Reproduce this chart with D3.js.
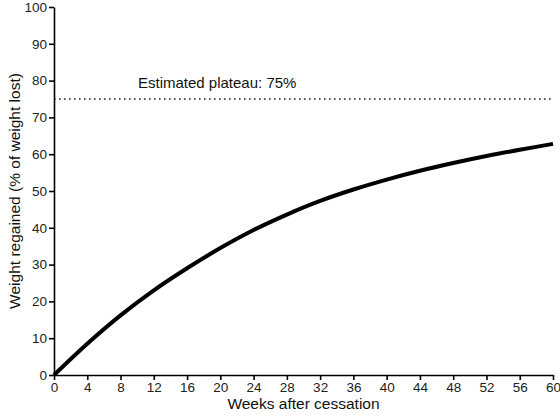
<!DOCTYPE html>
<html>
<head>
<meta charset="utf-8">
<script src="https://cdn.jsdelivr.net/npm/d3@7"></script>
<style>
  body { margin: 0; background: #fff; }
  svg { font-family: "Liberation Sans", Arial, sans-serif; }
  .axis path, .axis line { stroke: #000; stroke-width: 1.6px; }
  .axis text { font-size: 13.5px; fill: #222; }
</style>
</head>
<body>
<svg id="chart" width="560" height="420"></svg>
<script>
'use strict';

// values
var weeks = [0, 4, 8, 12, 16, 20, 24, 28, 32, 36, 40, 44, 48, 52, 56, 60];
var regained = [0, 8.5, 16.2, 23.0, 29.0, 34.5, 39.4, 43.6, 47.3, 50.4, 53.1, 55.5, 57.6, 59.5, 61.2, 62.8];
var plateau = 75;
var xTicks = [0, 4, 8, 12, 16, 20, 24, 28, 32, 36, 40, 44, 48, 52, 56, 60];
var yTicks = [0, 10, 20, 30, 40, 50, 60, 70, 80, 90, 100];

var margin = { top: 7, right: 7, bottom: 45, left: 54 };
var width = 560 - margin.left - margin.right;
var height = 420 - margin.top - margin.bottom;

var svg = d3.select('#chart');
var g = svg.append('g')
    .attr('transform', 'translate(' + margin.left + ',' + margin.top + ')');

var x = d3.scaleLinear().domain([0, 60]).range([0, width]);
var y = d3.scaleLinear().domain([0, 100]).range([height, 0]);

// plateau line
g.append('line')
  .attr('x1', x(0)).attr('x2', x(60))
  .attr('y1', y(plateau)).attr('y2', y(plateau))
  .attr('stroke', '#222')
  .attr('stroke-width', 1.6)
  .attr('stroke-dasharray', '1.6,3.4');

g.append('text')
  .attr('x', x(10.1))
  .attr('y', y(plateau) - 11)
  .attr('font-size', 15)
  .attr('fill', '#111')
  .text('Estimated plateau: ' + plateau + '%');

// curve
var line = d3.line()
    .x(function (d, i) { return x(weeks[i]); })
    .y(function (d) { return y(d); })
    .curve(d3.curveCatmullRom);

g.append('path')
  .attr('d', line(regained))
  .attr('fill', 'none')
  .attr('stroke', '#000')
  .attr('stroke-width', 4);

// axes
g.append('g')
  .attr('class', 'axis')
  .attr('transform', 'translate(0,' + height + ')')
  .call(d3.axisBottom(x).tickValues(xTicks).tickSize(5).tickSizeOuter(0).tickPadding(2));

g.append('g')
  .attr('class', 'axis')
  .call(d3.axisLeft(y).tickValues(yTicks).tickSize(5).tickSizeOuter(0).tickPadding(2));

// axis titles
svg.append('text')
  .attr('x', margin.left + width / 2)
  .attr('y', 409)
  .attr('text-anchor', 'middle')
  .attr('font-size', 15.5)
  .attr('fill', '#111')
  .text('Weeks after cessation');

svg.append('text')
  .attr('transform', 'translate(20,' + (margin.top + height / 2) + ') rotate(-90)')
  .attr('text-anchor', 'middle')
  .attr('font-size', 15.5)
  .attr('fill', '#111')
  .text('Weight regained (% of weight lost)');
</script>
</body>
</html>
